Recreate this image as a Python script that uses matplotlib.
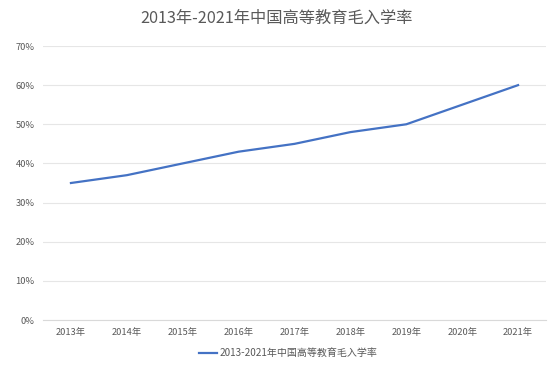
import matplotlib.pyplot as plt
from matplotlib.ticker import FuncFormatter

plt.rcParams['font.family'] = ['Noto Sans CJK SC', 'DejaVu Sans']

# 数据
years = ['2013年', '2014年', '2015年', '2016年', '2017年', '2018年', '2019年', '2020年', '2021年']
rates = [35, 37, 40, 43, 45, 48, 50, 55, 60]
series_name = '2013-2021年中国高等教育毛入学率'
title = '2013年-2021年中国高等教育毛入学率'

text_color = '#595959'
line_color = '#4472C4'
grid_color = '#e6e6e6'

fig = plt.figure(figsize=(5.54, 3.76), dpi=100)
ax = fig.add_axes([43 / 554, 1 - 320 / 376, 503 / 554, 274 / 376])

x = range(len(years))
ax.plot(x, rates, color=line_color, linewidth=1.6, label=series_name)

ax.set_xlim(-0.5, len(years) - 0.5)
ax.set_ylim(0, 70)
ax.set_yticks(range(0, 71, 10))
ax.yaxis.set_major_formatter(FuncFormatter(lambda v, p: f'{int(v)}%'))
ax.set_xticks(list(x))
ax.set_xticklabels(years)

ax.grid(axis='y', color=grid_color, linewidth=0.8)
ax.set_axisbelow(True)
for s in ['top', 'right', 'left']:
    ax.spines[s].set_visible(False)
ax.spines['bottom'].set_color('#d9d9d9')
ax.spines['bottom'].set_linewidth(0.8)
ax.tick_params(axis='both', length=0, labelsize=6.7, colors=text_color, pad=6)

fig.suptitle(title, x=0.5, y=0.975, fontsize=11.7, color=text_color)

fig.legend(loc='center', bbox_to_anchor=(0.52, 1 - 353 / 376), frameon=False,
           fontsize=7.2, labelcolor=text_color, handlelength=1.8, handletextpad=0.3)

fig.savefig('out.png', dpi=100, facecolor='white')
